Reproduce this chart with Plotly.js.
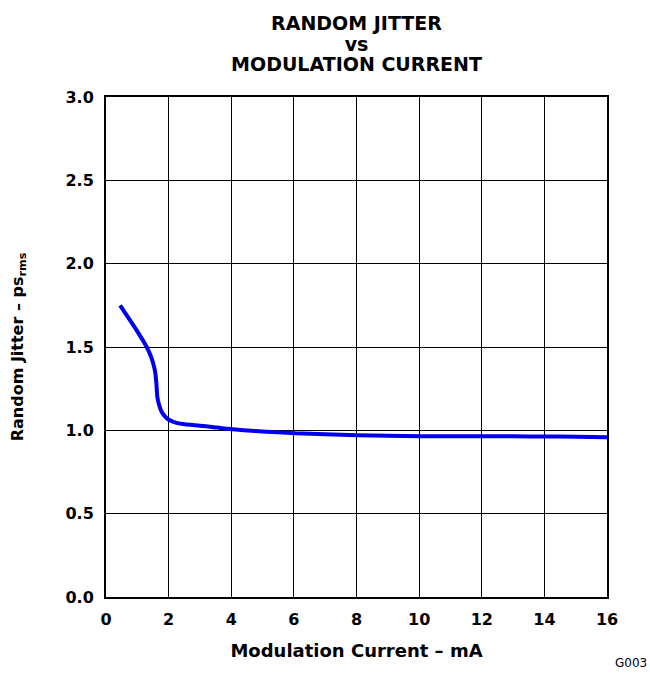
<!DOCTYPE html>
<html>
<head>
<meta charset="utf-8">
<script src="https://cdn.plot.ly/plotly-3.0.1.min.js"></script>
<style>html,body{margin:0;padding:0;background:#fff;}#chart{width:650px;height:675px;}</style>
</head>
<body>
<div id="chart"></div>
<script>
const currentMA = [0.45, 0.98, 1.30, 1.42, 1.51, 1.57, 1.61, 1.64, 1.70, 1.78, 1.90, 2.04, 2.25, 2.52, 3.0, 3.38, 4.03, 4.76, 5.5, 6.04, 7.0, 8.02, 9.0, 10.03, 11.0, 12.04, 13.0, 14.03, 15.0, 16.0];
const jitterPs = [1.75, 1.60, 1.50, 1.45, 1.40, 1.35, 1.28, 1.20, 1.15, 1.11, 1.08, 1.06, 1.045, 1.036, 1.028, 1.02, 1.006, 0.996, 0.988, 0.982, 0.976, 0.970, 0.967, 0.964, 0.964, 0.964, 0.964, 0.963, 0.962, 0.958];
const xTicks = [0, 2, 4, 6, 8, 10, 12, 14, 16];
const yTicks = [0, 0.5, 1.0, 1.5, 2.0, 2.5, 3.0];
const yTickLabels = ['0.0', '0.5', '1.0', '1.5', '2.0', '2.5', '3.0'];

const font = 'DejaVu Sans, Verdana, sans-serif';
const big = s => '<span style="font-size:19px"><b>' + s + '</b></span>';
const trace = {
  x: currentMA, y: jitterPs, mode: 'lines', type: 'scatter',
  line: {color: '#0000ee', width: 4, shape: 'spline', smoothing: 0.6},
  hoverinfo: 'skip'
};
const layout = {
  width: 650, height: 675,
  margin: {l: 106, r: 43, t: 97, b: 78},
  paper_bgcolor: '#fff', plot_bgcolor: '#fff',
  showlegend: false,
  title: {
    text: big('RANDOM JITTER') + '<br>' + big('vs') + '<br>' + big('MODULATION CURRENT'),
    font: {family: font, size: 15.5, color: '#000'},
    x: 0.5, xref: 'paper', xanchor: 'center',
    y: 0.955, yref: 'container', yanchor: 'top'
  },
  xaxis: {
    range: [0, 16], tickvals: xTicks, ticktext: xTicks.map(String),
    showgrid: true, gridcolor: '#000', gridwidth: 1,
    showline: true, linecolor: '#000', linewidth: 2, mirror: true,
    ticks: '', zeroline: false, ticklabelstandoff: 7,
    tickfont: {family: font, size: 16, color: '#000', weight: 'bold'},
    title: {text: '<b>Modulation Current – mA</b>', font: {family: font, size: 18, color: '#000'}, standoff: 16}
  },
  yaxis: {
    range: [0, 3], tickvals: yTicks, ticktext: yTickLabels,
    showgrid: true, gridcolor: '#000', gridwidth: 1,
    showline: true, linecolor: '#000', linewidth: 2, mirror: true,
    ticks: '', zeroline: false, ticklabelstandoff: 7,
    tickfont: {family: font, size: 16, color: '#000', weight: 'bold'},
    title: {text: '<b>Random Jitter – ps<sub>rms</sub></b>', font: {family: font, size: 16, color: '#000'}, standoff: 38}
  },
  annotations: [{
    text: 'G003', xref: 'paper', yref: 'paper', x: 1.084, y: -0.132,
    xanchor: 'right', yanchor: 'middle', showarrow: false,
    font: {family: font, size: 12, color: '#000'}
  }]
};
Plotly.newPlot('chart', [trace], layout, {displayModeBar: false, staticPlot: true});
</script>
</body>
</html>
